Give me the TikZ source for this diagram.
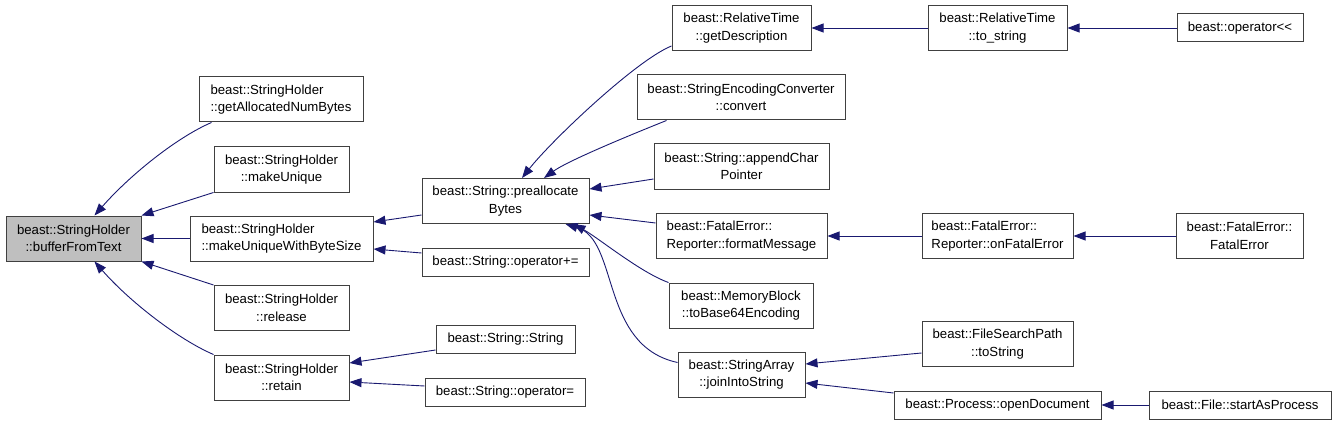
\documentclass[tikz,border=0pt]{standalone}
\usepackage{fontspec}
\setmainfont{Liberation Sans}
\usetikzlibrary{arrows.meta,calc}
\definecolor{midnight}{RGB}{25,25,112}
\definecolor{grey75}{RGB}{191,191,191}

\begin{document}
\begin{tikzpicture}[
  x=1pt, y=-1pt,
  every node/.style={font=\fontsize{13.2}{17.5}\selectfont, inner sep=0pt},
  box/.style={draw=black!75, line width=1pt, fill=white, minimum height=45pt, align=center},
  lone/.style={box, minimum height=28pt},
  link/.style={draw=midnight, line width=0.9pt, -{Triangle[length=12pt,width=9pt]}}
]
\useasboundingbox (0,0) rectangle (1336,425);

\node[box, fill=grey75, minimum width=135pt] (bft) at (73.5,238.5) {beast::StringHolder\\::bufferFromText};
\node[box, minimum width=164pt, align=left] (gan) at (281,99.5) {beast::StringHolder\\::getAllocatedNumBytes};
\node[box, minimum width=135pt] (mu) at (281.5,169.5) {beast::StringHolder\\::makeUnique};
\node[box, minimum width=183pt, align=left] (mubs) at (281.5,238.5) {beast::StringHolder\\::makeUniqueWithByteSize};
\node[box, minimum width=135pt] (rel) at (281.5,308) {beast::StringHolder\\::release};
\node[box, minimum width=135pt] (ret) at (281.5,377.5) {beast::StringHolder\\::retain};

\node[box, minimum width=167pt] (pab) at (505.5,201) {beast::String::preallocate\\Bytes};
\node[lone, minimum width=167pt] (opa) at (505.5,262.5) {beast::String::operator+=};
\node[lone, minimum width=139pt] (sstr) at (505.5,339) {beast::String::String};
\node[lone, minimum width=160pt] (opeq) at (505,392) {beast::String::operator=};

\node[box, minimum width=139pt] (gd) at (741.5,28) {beast::RelativeTime\\::getDescription};
\node[box, minimum width=208pt] (conv) at (741,97.5) {beast::StringEncodingConverter\\::convert};
\node[box, minimum width=175pt] (acp) at (741.5,166.5) {beast::String::appendChar\\Pointer};
\node[box, minimum width=171pt, align=left] (fm) at (741.5,236) {beast::FatalError::\\Reporter::formatMessage};
\node[box, minimum width=144pt] (b64) at (741,305.5) {beast::MemoryBlock\\::toBase64Encoding};
\node[box, minimum width=127pt] (jis) at (741.5,374.5) {beast::StringArray\\::joinIntoString};

\node[box, minimum width=139pt] (ts) at (997.5,28) {beast::RelativeTime\\::to\_string};
\node[box, minimum width=151pt, align=left] (ofe) at (997.5,236) {beast::FatalError::\\Reporter::onFatalError};
\node[box, minimum width=151pt] (fsp) at (997.5,344) {beast::FileSearchPath\\::toString};
\node[lone, minimum width=207pt] (od) at (997.5,405) {beast::Process::openDocument};

\node[lone, minimum width=126pt] (ol) at (1240,28) {beast::operator<{}<};
\node[box, minimum width=127pt] (fe) at (1239.5,236) {beast::FatalError::\\FatalError};
\node[lone, minimum width=182pt] (sap) at (1240,405) {beast::File::startAsProcess};

\draw[link] ($(gan.south west)+(13,0)$) .. controls +(-35,15) and +(35,-40) .. ($(bft.north)+(21,0)$);
\draw[link] (mu.south west) -- (bft.north east);
\draw[link] (mubs.west) -- (bft.east);
\draw[link] (rel.north west) -- (bft.south east);
\draw[link] (ret.north west) .. controls +(-35,-15) and +(35,40) .. ($(bft.south)+(21,0)$);

\draw[link] ($(pab.west)+(0,14)$) -- ($(mubs.east)+(0,-16.5)$);
\draw[link] ($(opa.west)+(0,-9.5)$) -- ($(mubs.east)+(0,10.5)$);
\draw[link] ($(sstr.west)+(0,11)$) -- ($(ret.east)+(0,-14.5)$);
\draw[link] ($(opeq.west)+(0,-6)$) -- ($(ret.east)+(0,4.5)$);

\draw[link] ($(gd.west)+(0,18)$) .. controls +(-35,14) and +(30,-38) .. ($(pab.north)+(16.5,0)$);
\draw[link] ($(conv.south west)+(30,0)$) .. controls +(-30,12) and +(25,-18) .. ($(pab.north)+(38.5,0)$);
\draw[link] ($(acp.west)+(0,12.5)$) -- ($(pab.east)+(0,-12)$);
\draw[link] ($(fm.west)+(0,-13)$) -- ($(pab.east)+(0,14)$);
\draw[link] (b64.north west) .. controls +(-28,-10) and +(25,14) .. ($(pab.south)+(68,0)$);
\draw[link] ($(jis.west)+(0,-12)$) .. controls +(-78,-17) and +(54,16) .. ($(pab.south)+(60,0)$);

\draw[link] (ts.west) -- (gd.east);
\draw[link] (ol.west) -- (ts.east);
\draw[link] (ofe.west) -- (fm.east);
\draw[link] (fe.west) -- (ofe.east);
\draw[link] ($(fsp.west)+(0,9)$) -- ($(jis.east)+(0,-10.5)$);
\draw[link] ($(od.west)+(0,-12)$) -- ($(jis.east)+(0,8.5)$);
\draw[link] (sap.west) -- (od.east);
\end{tikzpicture}
\end{document}
